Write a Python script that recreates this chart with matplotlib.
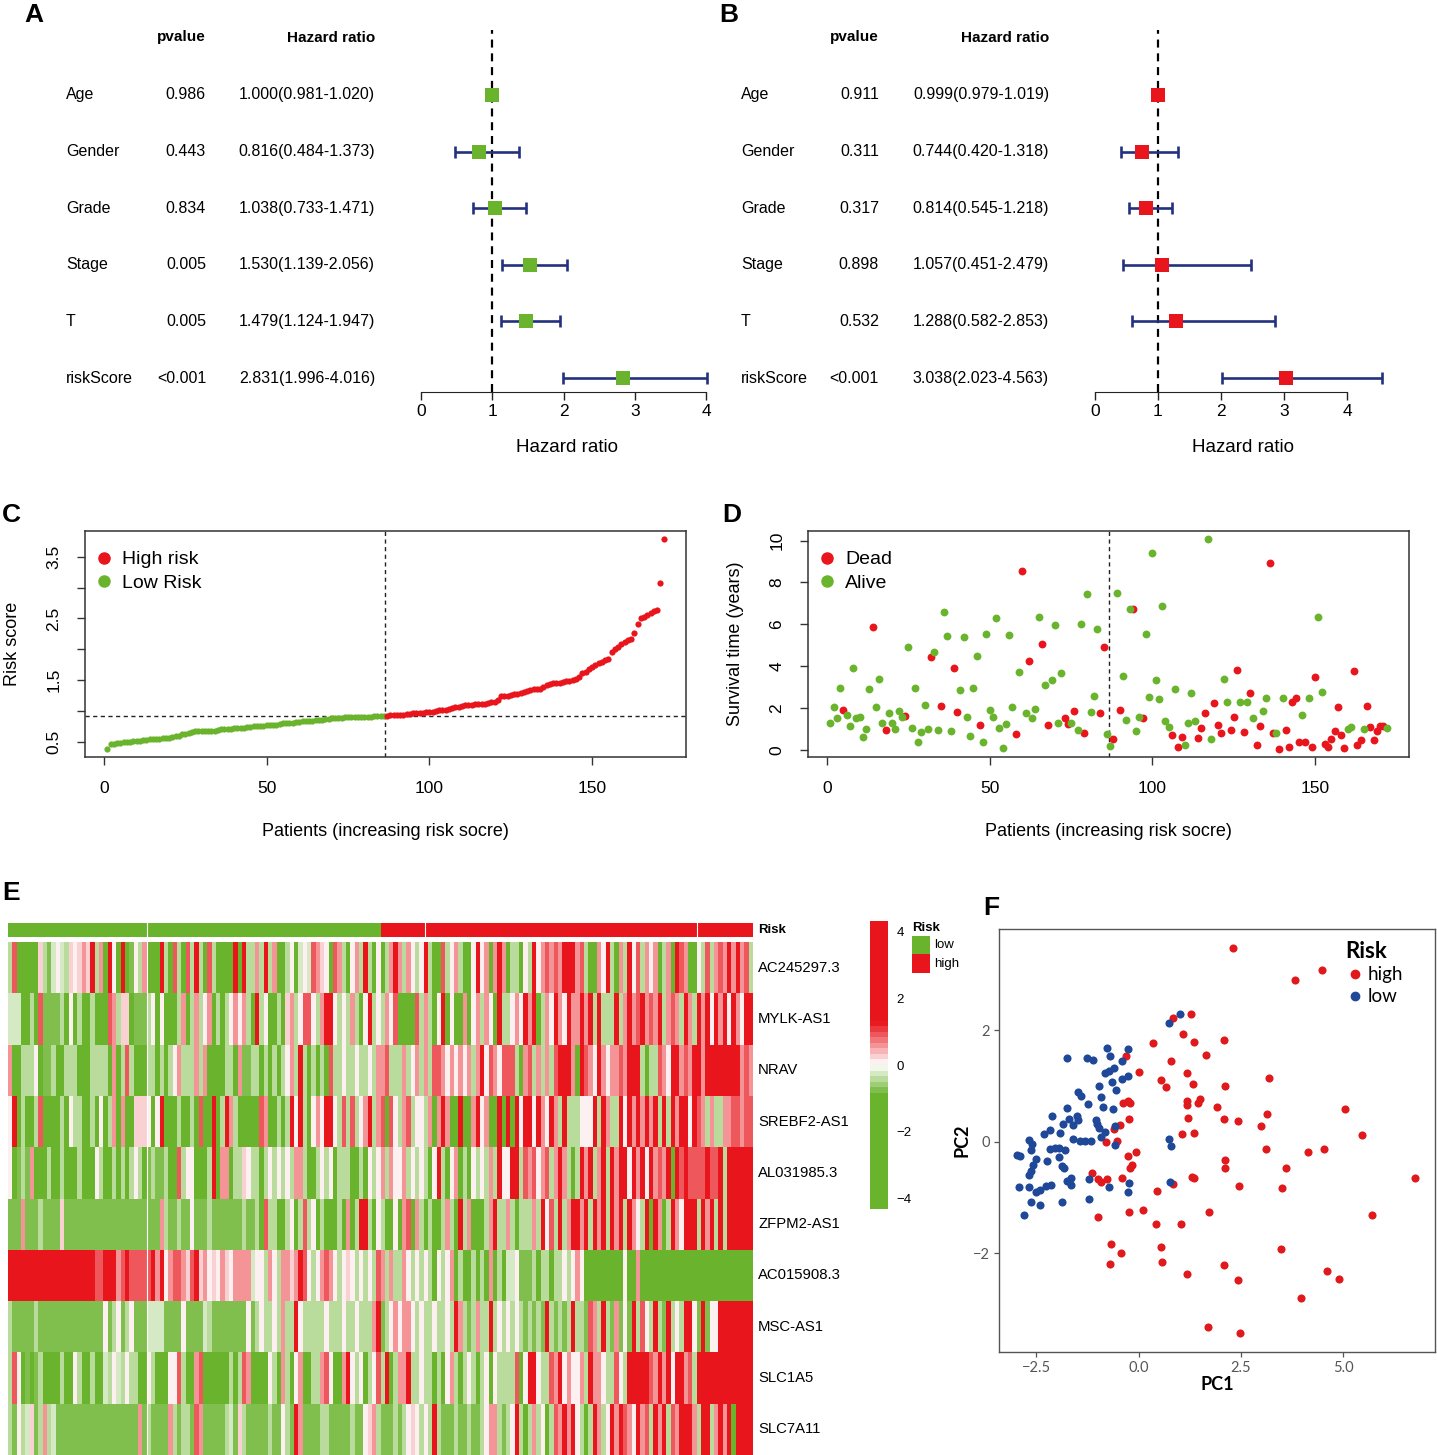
import numpy as np
import matplotlib
matplotlib.use('Agg')
import matplotlib.pyplot as plt
from matplotlib.colors import LinearSegmentedColormap, ListedColormap, Normalize
from matplotlib.lines import Line2D
from matplotlib.transforms import blended_transform_factory
import matplotlib.cm as cm

plt.rcParams['font.family'] = ['Liberation Sans', 'DejaVu Sans']

# ---------------- data ----------------
var_names = ["Age", "Gender", "Grade", "Stage", "T", "riskScore"]
uni_p = ["0.986", "0.443", "0.834", "0.005", "0.005", "<0.001"]
uni_hr = [1.000, 0.816, 1.038, 1.530, 1.479, 2.831]
uni_lo = [0.981, 0.484, 0.733, 1.139, 1.124, 1.996]
uni_hi = [1.020, 1.373, 1.471, 2.056, 1.947, 4.016]
multi_p = ["0.911", "0.311", "0.317", "0.898", "0.532", "<0.001"]
multi_hr = [0.999, 0.744, 0.814, 1.057, 1.288, 3.038]
multi_lo = [0.979, 0.420, 0.545, 0.451, 0.582, 2.023]
multi_hi = [1.019, 1.318, 1.218, 2.479, 2.853, 4.563]
hr_ticks = [0, 1, 2, 3, 4]

risk_score = [
    0.39, 0.46, 0.47, 0.48, 0.48, 0.49, 0.50, 0.50, 0.51, 0.52,
    0.52, 0.53, 0.53, 0.54, 0.54, 0.55, 0.55, 0.56, 0.56, 0.57,
    0.58, 0.59, 0.60, 0.62, 0.63, 0.65, 0.66, 0.67, 0.67, 0.67,
    0.67, 0.68, 0.68, 0.68, 0.69, 0.70, 0.70, 0.71, 0.71, 0.72,
    0.72, 0.73, 0.73, 0.74, 0.74, 0.75, 0.75, 0.76, 0.76, 0.77,
    0.77, 0.78, 0.78, 0.79, 0.80, 0.80, 0.81, 0.81, 0.82, 0.82,
    0.83, 0.83, 0.84, 0.84, 0.85, 0.85, 0.86, 0.87, 0.87, 0.88,
    0.88, 0.89, 0.89, 0.90, 0.90, 0.90, 0.91, 0.91, 0.91, 0.91,
    0.91, 0.91, 0.92, 0.92, 0.92, 0.92, 0.92, 0.93, 0.93, 0.93,
    0.94, 0.94, 0.95, 0.95, 0.96, 0.96, 0.97, 0.97, 0.98, 0.99,
    0.99, 1.00, 1.01, 1.01, 1.02, 1.03, 1.05, 1.06, 1.07, 1.08,
    1.09, 1.10, 1.10, 1.11, 1.11, 1.12, 1.12, 1.13, 1.14, 1.15,
    1.18, 1.24, 1.25, 1.25, 1.26, 1.27, 1.28, 1.29, 1.31, 1.33,
    1.34, 1.35, 1.35, 1.36, 1.39, 1.42, 1.44, 1.45, 1.45, 1.46,
    1.47, 1.48, 1.49, 1.50, 1.51, 1.55, 1.61, 1.63, 1.68, 1.71,
    1.74, 1.77, 1.80, 1.82, 1.84, 1.96, 2.00, 2.04, 2.08, 2.12,
    2.15, 2.17, 2.26, 2.41, 2.50, 2.53, 2.56, 2.59, 2.62, 2.63,
    3.08, 3.78]

surv_time = [
    1.30, 2.07, 1.53, 2.98, 1.90, 1.67, 1.16, 3.90, 1.50, 1.55,
    0.60, 1.00, 2.90, 5.85, 2.04, 3.38, 1.30, 0.96, 1.75, 1.27,
    0.99, 1.86, 1.55, 1.62, 4.94, 1.03, 2.95, 0.37, 0.84, 2.13,
    0.99, 4.43, 4.70, 0.96, 2.10, 6.60, 5.45, 0.92, 3.90, 1.80,
    2.87, 5.40, 1.58, 0.67, 2.95, 4.50, 1.18, 0.38, 5.53, 1.90,
    1.58, 6.30, 1.05, 0.11, 1.24, 5.50, 2.04, 0.76, 3.74, 8.57,
    1.78, 4.25, 1.50, 1.96, 6.34, 5.08, 3.12, 1.18, 3.33, 5.99,
    1.30, 3.66, 1.51, 1.24, 1.30, 1.88, 0.96, 6.02, 0.83, 7.45,
    1.80, 2.58, 5.76, 1.78, 4.90, 0.76, 0.18, 0.53, 7.52, 1.91,
    3.55, 1.42, 6.72, 6.72, 0.89, 1.56, 1.50, 5.56, 2.52, 9.41,
    3.34, 2.44, 6.88, 1.37, 1.11, 0.73, 2.90, 0.13, 0.60, 0.24,
    1.30, 2.70, 1.37, 0.59, 1.05, 1.74, 10.06, 0.51, 2.26, 1.21,
    0.83, 3.38, 2.31, 0.94, 1.56, 3.82, 2.31, 0.84, 2.31, 2.74,
    1.51, 0.24, 1.15, 1.85, 2.47, 8.92, 0.80, 0.83, 0.06, 2.48,
    0.96, 0.16, 2.28, 2.48, 0.37, 1.67, 0.37, 2.47, 0.16, 3.49,
    6.37, 2.75, 0.27, 0.13, 0.53, 0.88, 2.07, 0.73, 0.08, 0.99,
    1.07, 3.79, 0.21, 0.45, 0.99, 2.10, 1.11, 0.45, 0.88, 1.15,
    1.15, 1.05]

surv_status = [
    0, 0, 0, 0, 1, 0, 0, 0, 0, 0,
    0, 0, 0, 1, 0, 0, 0, 1, 0, 0,
    0, 0, 0, 1, 0, 0, 0, 0, 0, 0,
    0, 1, 0, 0, 1, 0, 0, 0, 1, 1,
    0, 0, 0, 0, 0, 0, 1, 0, 0, 0,
    0, 0, 0, 0, 0, 0, 0, 1, 0, 1,
    0, 1, 0, 0, 0, 1, 0, 1, 0, 0,
    0, 0, 1, 1, 0, 1, 0, 0, 1, 0,
    0, 0, 0, 1, 1, 0, 0, 1, 0, 1,
    0, 0, 0, 1, 0, 0, 1, 0, 0, 0,
    0, 0, 0, 0, 0, 1, 0, 1, 1, 0,
    0, 0, 0, 1, 1, 1, 0, 0, 1, 1,
    1, 0, 0, 1, 1, 1, 0, 1, 0, 1,
    0, 1, 1, 0, 0, 1, 1, 0, 1, 0,
    1, 1, 1, 1, 1, 0, 1, 0, 1, 1,
    0, 0, 1, 1, 1, 1, 1, 1, 1, 0,
    0, 1, 1, 1, 0, 1, 1, 1, 1, 1,
    1, 0]

n_low = 86
risk_group = ["low"] * n_low + ["high"] * (len(risk_score) - n_low)

genes = ["AC245297.3", "MYLK-AS1", "NRAV", "SREBF2-AS1", "AL031985.3",
         "ZFPM2-AS1", "AC015908.3", "MSC-AS1", "SLC1A5", "SLC7A11"]
# expression level codes per patient (G strong low ... R strong high)
level_value = {'G': -2.0, 'g': -0.7, 'l': -0.45, 'v': -0.2, 'w': 0.0,
               'q': 0.17, 'p': 0.5, 'r': 0.9, 'R': 2.0}
expr_rows = [
    "lrGGGGGqlg vwvlqwqpqR lpGRwGRGgw lpGGGRlGrl GrlRlGrlGG GGRGRllplR lpGGlwGvwv rpqwGrplGw plRlGwGlpR plpwlwRlGG rlwplGGwRw pGpRpGllGw lRwprprpRR RprlGGpwRl GplRwrlpwp GlpGRrpGGw lrlprpRpRp rl",
    "vvvGGlGrgg gglGwGlGGl GGGrplqqGg gglwGwGGGl pGlplwpGlG lwpwplGRlw GGlGqplwrr wlpRRwlwlp lGwRlwlpwr GGGGrlplGw RGwGGpGwpl pwGRllwpwR pRGlpwRpwR ppRpRlRlll RlpRprRprp RlprplRplR pRwRpRwRpw RR",
    "pGGlllwGgg lGGlllGGGl lllGpGlrlG GGllGlGlwp lllplpGGGG llGpggllGl GlGlwplRlG lGlGrllwll wllwlpprll lplwplplrr pwpwpwplpR wrpwrrrlGp rlplplrRRR pGRrpwRpwp prpRRRlGll rpwRRprpRR pRRRRRRRRp rp",
    "wRGlGGlrGG GGlGwllGGl GwGlpGpGGq qqwGwRGGGl GGlGrGGRGl RplGGGGGrp GGlGlRwRlG wpwRRwlrlr lwpRlprGrw lprlwwlpGp RpGGRGGpRw pGGRGRGRwR RwRpwRplRl llwwwRlRpl lRwRpRpRpR lRlRpRRwRr plpllpprrp rr",
    "wGglgpGGGl GGlGGGlGGG wlGGlGlGlw lGglgglGGr lwwGGGlRGp pGllqwllGl wlwlwlpplG GlwlwGlllG GlGwlwplpw wplwlwlGwR lGwpGlGwlw lplRwwRRlr prwprlpRpl GlRpRlpRlR pRRwRpRwRp rpRGRrRrrr rRrrRlRRRR RR",
    "gggpggglgg ggqggggggg gggggggggg gggggplggl ggwggglggg gggglgglGr llGGlwGlrl wGlGGGlGpG lRRlGwlGGw GprGplGlGG lplGRlpGGG lpRllplGll lplRwrlRlp RRpRlRpRlR pRlRpwlRGR pGlRpwRRRl RpRlRlRRRR RR",
    "RRRRRRRRRR RRRRRRRRRR rrRRRprRrr rrrRpRwprr pqrRqpwqwp qwppppvwwl pwlppqpRrw lwprpwlwqw lwlwlrplpl lpwlwlwlGw lwpGlGGlGl GpGlGvvwgg glGllGllwl wpwGGGGGGG GGwGGpGGGG GGGGGGGGGG GGGGGGGGGG GG",
    "lggggglggg gggggggggg ggwglwglwg ggvvvvgggg wggggvlggg gggggwglwl lwlpllRwll lllwlllwll wlllpRglwp wppwlwllwl lwlRplglpl lRlwlwlwlg lglgRlglgl RllgrplRlg pgwgRlrwlR lgRlwlRRwg RgwwRRRRRR RR",
    "lrwGgGglGG GGlGGwlGGl GGvlwvlwll GGwlGGGwwr lGGprGGGGG GlGlrpGGGG wlGplGwpGG llprwGGpRw lwGlwrlRGl ppRllwllGl GwplGlwlGl wGwllllrGw RRwllrpRwp wwplRppwll rwlRRRRRrp RpRwRRprlR RRRRRRRRRR RR",
    "lgwlvqglpl vggggggggg gggggggggg pglggggplg llgrpggggg lvgqlggggg lggwlgRpgg ggllgggggl ggwqplgggl glwqwlwlRl ggglgglggl wpplglwRlG lplwGlrpRp RwlGlRplwR pRrpwRprlR pRlrpRRRpl RRlpRpRGRR RR",
]

pc1_high = [2.30, 4.48, 3.81, 1.27, 0.84, 1.09, 1.35, 0.34, 2.08, 1.65, 0.78, -0.32, 0.00, 1.17, 3.19, 0.55,
            0.68, 1.33, 2.10, -0.39, -0.27, -0.20, 1.19, 1.18, 1.49, 1.45, 1.91, 5.05, 3.13, -0.23, 1.21, 2.08,
            2.42, -0.45, 2.99, -0.59, 1.05, 1.36, 5.45, -0.53, -0.79, -0.07, -0.25, 3.11, 4.13, 4.52, 2.12, -0.17,
            -0.22, 2.12, 3.59, -1.14, -1.00, -0.93, -0.76, -0.40, 1.30, 1.35, 6.75, 0.84, 2.46, 3.51, 0.44, -0.98,
            -0.24, 0.11, 1.73, 5.69, 0.43, 1.04, -0.67, -0.43, -0.69, 0.55, 0.58, 3.48, 2.08, 1.18, 2.42, 4.61,
            4.89, 3.97, 1.69, 2.48]
pc2_high = [3.48, 3.08, 2.90, 2.30, 2.22, 1.94, 1.80, 1.78, 1.83, 1.56, 1.46, 1.54, 1.26, 1.23, 1.14, 1.11,
            0.98, 1.04, 1.00, 0.69, 0.73, 0.69, 0.74, 0.66, 0.77, 0.69, 0.62, 0.59, 0.50, 0.41, 0.43, 0.41,
            0.37, 0.31, 0.29, 0.24, 0.14, 0.16, 0.12, 0.02, -0.01, -0.18, -0.26, -0.12, -0.19, -0.12, -0.32, -0.41,
            -0.46, -0.46, -0.47, -0.55, -0.67, -0.72, -0.67, -0.65, -0.63, -0.65, -0.65, -0.76, -0.80, -0.82, -0.89,
            -1.35, -1.26, -1.23, -1.25, -1.32, -1.47, -1.47, -1.84, -2.00, -2.19, -1.89, -2.15, -1.92, -2.21, -2.37,
            -2.47, -2.32, -2.46, -2.80, -3.32, -3.43]
pc1_low = [1.02, 0.75, -0.25, -0.76, -0.71, -0.41, -1.74, -1.25, -1.11, -0.60, -0.81, -0.72, -0.40, -0.27,
           -0.66, -0.97, -0.54, -1.48, -1.41, -0.91, -1.24, -0.86, -0.62, -1.76, -2.11, -1.71, -1.51, -1.49,
           -1.85, -1.61, -1.04, -1.02, -0.97, -2.16, -2.31, -1.92, -0.81, -0.93, -0.57, -1.61, -1.44, -1.30,
           -1.17, -0.57, 0.74, 0.80, -2.68, -2.60, -2.64, -2.17, -2.05, -1.95, -1.80, -2.96, -2.89, -2.51,
           -2.24, -1.95, -1.87, -1.83, -2.58, -2.63, -2.67, -1.65, -1.75, -1.64, -1.22, -0.72, -0.24, -0.27,
           0.77, -2.92, -2.68, -2.50, -2.42, -2.26, -2.14, -2.62, -2.42, -1.86, -1.22, -2.81]
pc2_low = [2.30, 2.13, 1.66, 1.69, 1.55, 1.45, 1.50, 1.50, 1.47, 1.32, 1.23, 1.27, 1.13, 1.19, 1.08, 1.01,
           0.93, 0.90, 0.82, 0.81, 0.68, 0.62, 0.59, 0.61, 0.46, 0.41, 0.47, 0.39, 0.32, 0.30, 0.40, 0.33,
           0.25, 0.22, 0.14, 0.16, 0.17, 0.09, 0.28, 0.06, 0.02, 0.01, 0.02, -0.05, 0.05, -0.07, 0.04, -0.04,
           -0.14, -0.12, -0.11, -0.11, -0.14, -0.24, -0.26, -0.31, -0.35, -0.28, -0.44, -0.47, -0.41, -0.53,
           -0.59, -0.65, -0.71, -0.78, -0.67, -0.81, -0.73, -0.90, -0.72, -0.81, -0.81, -0.90, -0.86, -0.80,
           -0.78, -1.08, -1.14, -1.08, -1.02, -1.32]

# ---------------- style ----------------
GREEN = '#6AB42D'
RED = '#E8161C'
NAVY = '#23317E'
F_RED = '#E0191C'
F_BLUE = '#1F4899'

W, H = 1437, 1455
fig = plt.figure(figsize=(W / 100, H / 100), dpi=100)


def add_ax(l, t, r, b):
    return fig.add_axes([l / W, 1 - b / H, (r - l) / W, (b - t) / H])


def forest(left, px_per, xmax, pv, hr, lo, hi, color, lab_x, pv_x, hr_x):
    ax = add_ax(left, 30, left + xmax * px_per, 392)
    n = len(var_names)
    y = np.arange(n, 0, -1)
    hr = np.array(hr); lo = np.array(lo); hi = np.array(hi)
    ax.set_xlim(0, xmax)
    ax.set_ylim(0.7527, 7.148)
    ax.axvline(1, color='black', lw=1.6, ls=(0, (3.6, 2.6)), zorder=1)
    ax.errorbar(hr, y, xerr=[hr - lo, hi - hr], fmt='none', ecolor=NAVY,
                elinewidth=1.9, capsize=4.6, capthick=1.9, zorder=2)
    ax.plot(hr, y, 's', color=color, markersize=10, markeredgewidth=0, zorder=3)
    for s in ['top', 'right', 'left']:
        ax.spines[s].set_visible(False)
    ax.spines['bottom'].set_bounds(hr_ticks[0], hr_ticks[-1])
    ax.spines['bottom'].set_color('#222222')
    ax.set_yticks([])
    ax.set_xticks(hr_ticks)
    ax.tick_params(axis='x', length=6, width=1, color='#222222', labelsize=12.5, pad=3)
    ax.set_xlabel('Hazard ratio', fontsize=13.5, labelpad=14)
    tr = blended_transform_factory(fig.transFigure, ax.transData)
    for i in range(n):
        ax.text(lab_x / W, y[i], var_names[i], transform=tr, ha='left', va='center', fontsize=11.5)
        ax.text(pv_x / W, y[i], pv[i], transform=tr, ha='right', va='center', fontsize=11.5)
        ax.text(hr_x / W, y[i], f"{hr[i]:.3f}({lo[i]:.3f}-{hi[i]:.3f})", transform=tr,
                ha='right', va='center', fontsize=11.5)
    ax.text(pv_x / W, 7.02, 'pvalue', transform=tr, ha='right', va='center', fontsize=11, fontweight='bold')
    ax.text(hr_x / W, 7.0, 'Hazard ratio', transform=tr, ha='right', va='center', fontsize=11, fontweight='bold')


forest(421, 71.25, 4.1, uni_p, uni_hr, uni_lo, uni_hi, GREEN, 66, 206, 375)
forest(1095, 63.0, 4.7, multi_p, multi_hr, multi_lo, multi_hi, RED, 741, 879, 1049)

# ---------------- C & D ----------------
rs = np.array(risk_score)
n = len(rs)
xp = np.arange(1, n + 1)
low = np.array([g == 'low' for g in risk_group])
cutoff = np.median(rs)
xlim = (1 - 0.04 * (n - 1), n + 0.04 * (n - 1))


def r_style(ax):
    for s in ax.spines.values():
        s.set_linewidth(1.1)
        s.set_color('#333333')
    ax.tick_params(direction='out', length=6, width=1, color='#333333', labelsize=12.5, pad=11)


legend_kw = dict(loc='upper left', bbox_to_anchor=(-0.014, 0.99), frameon=False, fontsize=14,
                 handlelength=1.0, handletextpad=0.45, borderaxespad=0.55, borderpad=0.35,
                 labelspacing=0.32)

axc = add_ax(85, 531, 686, 757)
axc.scatter(xp[low], rs[low], s=20, color=GREEN, lw=0, zorder=3)
axc.scatter(xp[~low], rs[~low], s=20, color=RED, lw=0, zorder=3)
axc.axvline(n_low + 0.5, color='#222222', lw=1.0, ls=(0, (3, 2.5)))
axc.axhline(cutoff, color='#222222', lw=1.0, ls=(0, (3, 2.5)))
axc.set_xlim(*xlim)
rng = rs.max() - rs.min()
axc.set_ylim(rs.min() - 0.04 * rng, rs.max() + 0.04 * rng)
axc.set_xticks([0, 50, 100, 150])
yt = [0.5, 1.0, 1.5, 2.0, 2.5, 3.0, 3.5]
axc.set_yticks(yt)
axc.set_yticklabels(['0.5', '', '1.5', '', '2.5', '', '3.5'], rotation=90, va='center')
r_style(axc)
axc.set_xlabel('Patients (increasing risk socre)', fontsize=13, labelpad=20)
axc.set_ylabel('Risk score', fontsize=13, labelpad=18)
axc.legend(handles=[Line2D([], [], marker='o', ls='', color=RED, markersize=8, label='High risk'),
                    Line2D([], [], marker='o', ls='', color=GREEN, markersize=8, label='Low Risk')],
           **legend_kw)

st = np.array(surv_time)
dead = np.array(surv_status) == 1
axd = add_ax(808, 531, 1409, 757)
axd.scatter(xp[dead], st[dead], s=32, color=RED, lw=0, zorder=3)
axd.scatter(xp[~dead], st[~dead], s=32, color=GREEN, lw=0, zorder=3)
axd.axvline(n_low + 0.5, color='#222222', lw=1.0, ls=(0, (3, 2.5)))
axd.set_xlim(*xlim)
rng = st.max() - st.min()
axd.set_ylim(st.min() - 0.04 * rng, st.max() + 0.04 * rng)
axd.set_xticks([0, 50, 100, 150])
axd.set_yticks([0, 2, 4, 6, 8, 10])
axd.set_yticklabels(['0', '2', '4', '6', '8', '10'], rotation=90, va='center')
r_style(axd)
axd.set_xlabel('Patients (increasing risk socre)', fontsize=13, labelpad=20)
axd.set_ylabel('Survival time (years)', fontsize=13, labelpad=18)
axd.legend(handles=[Line2D([], [], marker='o', ls='', color=RED, markersize=8, label='Dead'),
                    Line2D([], [], marker='o', ls='', color=GREEN, markersize=8, label='Alive')],
           **legend_kw)

# ---------------- E heatmap ----------------
rows = [r.replace(' ', '') for r in expr_rows]
lens = [len(r) for r in rows]
if any(L != n for L in lens):
    raise ValueError(f"row lengths {lens}")
expr = np.array([[level_value[c] for c in r] for r in rows])

vmin, vmax = -4.33, 4.33
def pos(v):
    return (v - vmin) / (vmax - vmin)
cmap = LinearSegmentedColormap.from_list(
    'hm', [(0, GREEN), (pos(-0.9), GREEN), (pos(0.0), '#FFFFFF'), (pos(1.3), RED), (1, RED)], N=52)
norm = Normalize(vmin, vmax)

axe = add_ax(8, 942, 753, 1455)
axe.pcolormesh(np.arange(n + 1), np.arange(len(genes) + 1), expr, cmap=cmap, norm=norm)
axe.set_xlim(0, n)
axe.set_ylim(len(genes), 0)
axe.axis('off')
axe.axvline(32.1, color='white', lw=0.8)
for i, g in enumerate(genes):
    axe.text(1.007, 1 - (i + 0.5) / len(genes), g, transform=axe.transAxes, ha='left', va='center',
             fontsize=10.7)

grp_code = np.array([[0 if g == 'low' else 1 for g in risk_group]])
axa = add_ax(8, 923, 753, 937)
axa.pcolormesh(np.arange(n + 1), [0, 1], grp_code, cmap=ListedColormap([GREEN, RED]), vmin=0, vmax=1)
axa.set_xlim(0, n)
axa.axis('off')
for xc in [32.1, 96.3, 159.1]:
    axa.axvline(xc, color='white', lw=0.8)
axa.text(1.007, 0.5, 'Risk', transform=axa.transAxes, ha='left', va='center', fontsize=9.5,
         fontweight='bold')

cax = add_ax(870, 921, 888, 1209)
cb = fig.colorbar(cm.ScalarMappable(norm=norm, cmap=cmap), cax=cax, ticks=[-4, -2, 0, 2, 4])
cb.outline.set_visible(False)
cax.tick_params(length=0, labelsize=9.5, pad=6)

lax = add_ax(912, 936, 930, 973)
lax.pcolormesh([0, 1], [0, 1, 2], np.array([[0], [1]]), cmap=ListedColormap([GREEN, RED]), vmin=0, vmax=1)
lax.set_ylim(2, 0)
lax.axis('off')
lax.text(1.25, 0.75, 'low', transform=lax.transAxes, ha='left', va='center', fontsize=9.5)
lax.text(1.25, 0.25, 'high', transform=lax.transAxes, ha='left', va='center', fontsize=9.5)
lax.text(0.0, 1.05, 'Risk', transform=lax.transAxes, ha='left', va='bottom', fontsize=9.5, fontweight='bold')

# ---------------- F PCA ----------------
axf = add_ax(999, 929, 1435, 1352)
axf.scatter(pc1_high, pc2_high, s=34, color=F_RED, lw=0, zorder=3)
axf.scatter(pc1_low, pc2_low, s=34, color=F_BLUE, lw=0, zorder=3)
axf.set_xlim(-3.41, 7.24)
axf.set_ylim(-3.77, 3.82)
axf.set_xticks([-2.5, 0.0, 2.5, 5.0])
axf.set_xticklabels(['−2.5', '0.0', '2.5', '5.0'])
axf.set_yticks([-2, 0, 2])
for s in axf.spines.values():
    s.set_color('#555555')
    s.set_linewidth(1.0)
axf.tick_params(direction='out', length=3.5, width=0.9, color='#555555', labelcolor='#555555',
                labelsize=10.5, pad=3)
for lab in axf.get_xticklabels() + axf.get_yticklabels():
    lab.set_family(['Lato', 'DejaVu Sans'])
axf.set_xlabel('PC1', fontsize=13, fontweight='bold', family=['Lato', 'DejaVu Sans'], labelpad=1)
axf.set_ylabel('PC2', fontsize=13, fontweight='bold', family=['Lato', 'DejaVu Sans'], labelpad=2)
axf.legend(handles=[Line2D([], [], marker='o', ls='', color=F_RED, markersize=6, label='high'),
                    Line2D([], [], marker='o', ls='', color=F_BLUE, markersize=6, label='low')],
           title='Risk', loc='upper right', bbox_to_anchor=(0.945, 0.99), frameon=False,
           prop={'family': ['Lato', 'DejaVu Sans'], 'size': 13.5},
           title_fontproperties={'family': ['Lato', 'DejaVu Sans'], 'weight': 'bold', 'size': 16},
           alignment='left', handletextpad=0.2, labelspacing=0.25, handlelength=1.0, borderaxespad=0)

# ---------------- panel letters ----------------
for lt, x, y in [('A', 24, 15), ('B', 719, 15), ('C', 2, 515), ('D', 722, 515), ('E', 2, 893), ('F', 983, 908)]:
    fig.text(x / W, 1 - y / H, lt, fontsize=19, fontweight='bold', ha='left', va='center')

fig.savefig('out.png', dpi=100)
